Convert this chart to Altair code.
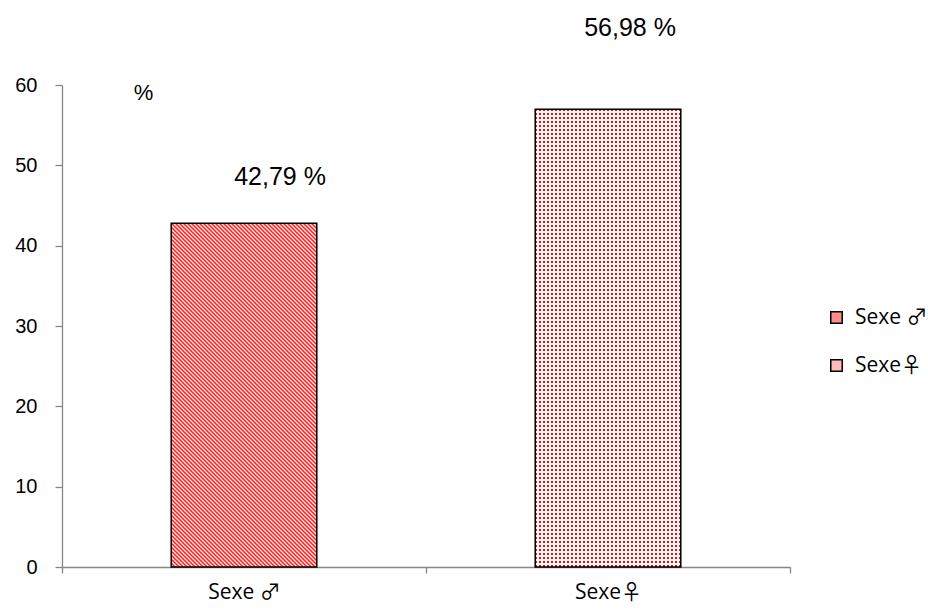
import altair as alt
import pandas as pd

# ---- data ----
categories = ["Sexe ♂", "Sexe♀"]
values = [42.79, 56.98]
value_labels = ["42,79 %", "56,98 %"]
y_ticks = [0, 10, 20, 30, 40, 50, 60]

df = pd.DataFrame({"cat": categories, "val": values, "label": value_labels})

FONT = "Liberation Sans"
CAT_FONT = "'Open Sans', 'Noto Sans CJK JP', 'DejaVu Sans'"
W, H = 728, 482
Y_MAX = 60
BAND_FRAC = 0.4
RED = "#ff0000"
bar_w = W / len(categories) * BAND_FRAC


def diag_stripes(w, h, period=4.0):
    """Diagonal '\\' stripes as a linear gradient in bounding-box units (soft edges)."""
    k = h / w
    dx = (1 + k) / (1 + k * k)
    dy = -k * dx
    n = (w + h) / period
    stops = []
    i = 0
    while i / n <= 1:
        stops.append({"offset": round(min(i / n, 1), 6), "color": RED})
        if (i + 0.5) / n <= 1:
            stops.append({"offset": round((i + 0.5) / n, 6), "color": "#ffffff"})
        i += 1
    return {"gradient": "linear", "x1": 0, "y1": 1, "x2": round(dx, 6),
            "y2": round(1 + dy, 6), "stops": stops}


def straight_stripes(length, vertical, period=4.0, frac=0.5, on=RED, off="#ffffff"):
    n = length / period
    stops = []
    i = 0
    while i / n < 1:
        t0 = i / n
        t1 = min((i + frac) / n, 1)
        t2 = min((i + 1) / n, 1)
        stops += [
            {"offset": t0, "color": on},
            {"offset": t1, "color": on},
            {"offset": t1, "color": off},
            {"offset": t2, "color": off},
        ]
        i += 1
    if vertical:
        return {"gradient": "linear", "x1": 0, "y1": 0, "x2": 0, "y2": 1, "stops": stops}
    return {"gradient": "linear", "x1": 0, "y1": 0, "x2": 1, "y2": 0, "stops": stops}


h1 = values[0] / Y_MAX * H
h2 = values[1] / Y_MAX * H
grad_male = diag_stripes(bar_w, h1, period=4.0)
grad_fem_cols = straight_stripes(bar_w, vertical=False, period=4.0, frac=0.5)
grad_fem_rows = straight_stripes(h2, vertical=True, period=4.0, frac=0.5,
                                 on="rgba(255,255,255,0)", off="#ffffff")

x_enc = alt.X(
    "cat:N",
    sort=categories,
    scale=alt.Scale(paddingInner=0, paddingOuter=0),
    axis=alt.Axis(
        title=None, labelAngle=0, tickBand="extent", tickSize=6,
        labelPadding=8, labelFontSize=21, labelFont=CAT_FONT, labelColor="black",
        domainColor="#868686", tickColor="#868686", domainWidth=1.3, tickWidth=1.3,
    ),
)
y_enc = alt.Y(
    "val:Q",
    scale=alt.Scale(domain=[0, Y_MAX], nice=False),
    axis=alt.Axis(
        values=y_ticks, grid=False, tickSize=7, labelPadding=18,
        labelFontSize=20, labelFont=FONT, labelColor="black",
        domainColor="#868686", tickColor="#868686", domainWidth=1.3, tickWidth=1.3,
        title="%", titleAngle=0, titleX=81, titleY=14, titleAlign="center",
        titleBaseline="alphabetic", titleFont=FONT, titleFontSize=22,
        titleFontWeight="normal", titleColor="black",
    ),
)

bw = alt.RelativeBandSize(BAND_FRAC)

legend = alt.Legend(
    title=None, orient="none", legendX=764, legendY=222, padding=0,
    symbolType="square", symbolSize=132, symbolStrokeColor="black",
    symbolStrokeWidth=1.5, labelFont=CAT_FONT, labelFontSize=21,
    labelColor="black", labelOffset=8, rowPadding=26,
)

base = alt.Chart(df).mark_bar(width=bw, strokeWidth=0).encode(
    x=x_enc, y=y_enc,
    color=alt.Color("cat:N", sort=categories,
                    scale=alt.Scale(domain=categories, range=["#ff8c8c", "#ffbcbc"]),
                    legend=legend),
)
male = alt.Chart(df).transform_filter(alt.datum.cat == categories[0]).mark_bar(
    width=bw, fill=grad_male, strokeWidth=0).encode(x=x_enc, y=y_enc)
fem_a = alt.Chart(df).transform_filter(alt.datum.cat == categories[1]).mark_bar(
    width=bw, fill=grad_fem_cols, strokeWidth=0).encode(x=x_enc, y=y_enc)
fem_b = alt.Chart(df).transform_filter(alt.datum.cat == categories[1]).mark_bar(
    width=bw, fill=grad_fem_rows, strokeWidth=0).encode(x=x_enc, y=y_enc)
outline = alt.Chart(df).mark_bar(
    width=bw, fillOpacity=0, stroke="black", strokeWidth=1.5).encode(x=x_enc, y=y_enc)
lab1 = alt.Chart(df).transform_filter(alt.datum.cat == categories[0]).mark_text(
    font=FONT, fontSize=25, color="black", baseline="alphabetic", dx=36, dy=-38
).encode(x=x_enc, y=y_enc, text="label:N")
lab2 = alt.Chart(df).transform_filter(alt.datum.cat == categories[1]).mark_text(
    font=FONT, fontSize=25, color="black", baseline="alphabetic", dx=22, dy=-73
).encode(x=x_enc, y=y_enc, text="label:N")

chart = alt.layer(base, male, fem_a, fem_b, outline, lab1, lab2).properties(
    width=W, height=H,
    autosize=alt.AutoSizeParams(type="none"),
    padding={"left": 62, "top": 85, "right": 928 - 62 - W, "bottom": 612 - 85 - H},
    background="white",
).configure_view(stroke=None)

chart.save("out.html", embed_options={"renderer": "svg", "actions": False})
